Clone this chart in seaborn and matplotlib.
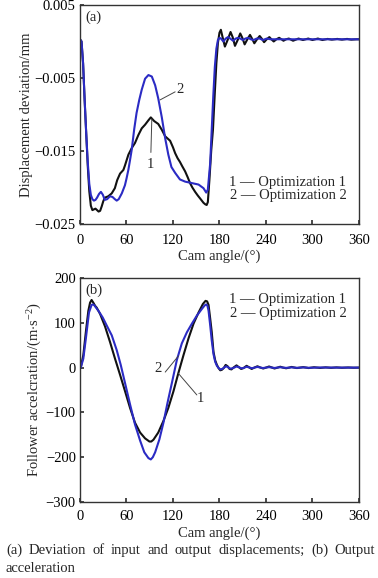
import matplotlib
matplotlib.use("Agg")
import matplotlib.pyplot as plt
import seaborn as sns
import pandas as pd

# ---- (a) displacement deviation, mm ----
disp_angle_1 = [0, 2, 4, 6, 8, 10, 12, 14, 16, 18, 20, 22, 24, 26, 28, 30, 32, 36.6, 41, 45,
                48, 51.7, 56, 58, 62.5, 66.8, 71, 75.4, 79.7, 84, 88.3, 91.4, 95.7, 101, 105.6,
                110, 116.3, 120, 122.8, 126, 129, 132, 135.7, 139, 142, 145, 148.6, 152, 155,
                159.4, 161.6, 163.5, 165, 167, 169.4, 171.6, 174, 176, 178, 180, 181.8, 184,
                187, 190.5, 194.3, 197, 200, 203.5, 206.8, 209.5, 212.5, 216, 219.4, 222, 225,
                228.5, 231.9, 234.5, 237.6, 241, 244.4, 247, 250, 253.5, 257, 260, 262.6, 266,
                269.5, 275, 282, 287.7, 294.6, 300, 307, 312.8, 319.6, 325, 332, 338, 344.7,
                350, 357, 360]
disp_opt_1 = [0.0003, 0.0, -0.003, -0.008, -0.0125, -0.017, -0.0205, -0.0225, -0.0231, -0.0230,
              -0.0229, -0.0231, -0.0233, -0.0232, -0.0226, -0.0219, -0.0214, -0.0212, -0.0208,
              -0.0201, -0.0190, -0.0181, -0.0176, -0.0170, -0.0155, -0.0146, -0.0139, -0.0128,
              -0.0119, -0.0114, -0.0108, -0.0104, -0.0109, -0.0113, -0.0121, -0.0130, -0.0136,
              -0.0145, -0.0153, -0.0160, -0.0165, -0.0171, -0.0178, -0.0186, -0.0194, -0.0200,
              -0.0206, -0.0211, -0.0215, -0.0221, -0.0223, -0.0224, -0.0220, -0.0190, -0.0149,
              -0.0121, -0.0070, -0.0030, -0.0002, 0.0012, 0.0016, 0.0006, -0.0007, 0.0002,
              0.0013, 0.0006, -0.0006, 0.0002, 0.0011, 0.0005, -0.0004, 0.0003, 0.0009, 0.0004,
              -0.00025, 0.0003, 0.00075, 0.0004, -0.0001, 0.0003, 0.0006, 0.0003, 0.0, 0.0003,
              0.0005, 0.0003, 0.0001, 0.0003, 0.0004, 0.0001, 0.0004, 0.0002, 0.0004, 0.0002,
              0.0004, 0.0002, 0.00035, 0.00025, 0.00035, 0.00025, 0.00035, 0.00025, 0.0003,
              0.0003]

disp_angle_2 = [0, 2, 4, 6, 8, 10, 12, 14, 16, 18, 20, 22, 24.5, 27, 29.5, 32, 35, 38.8, 42,
                45, 47.4, 50, 54, 58, 60, 62.4, 64.5, 66.8, 70, 73, 76.5, 79.7, 84, 88.3, 92.7,
                97, 101, 105.6, 110, 114, 118, 122.8, 129, 135.7, 144.4, 153, 159.4, 162.9, 165,
                168, 170, 172, 174, 176, 178, 180, 182, 185, 188, 191, 194, 197.5, 201, 204,
                207, 210, 213.5, 217, 220.5, 224, 228, 232, 236, 241, 246, 252, 270, 300, 330,
                360]
disp_opt_2 = [0.0003, 0.0, -0.003, -0.008, -0.0125, -0.0165, -0.0195, -0.0210, -0.0216,
              -0.0218, -0.0217, -0.0214, -0.0209, -0.0206, -0.0210, -0.0217, -0.0216, -0.0212,
              -0.0213, -0.0216, -0.0218, -0.0216, -0.0208, -0.0197, -0.0188, -0.0176, -0.0163,
              -0.0148, -0.0120, -0.0098, -0.0080, -0.0066, -0.0051, -0.0046, -0.0048, -0.0060,
              -0.0078, -0.0104, -0.0133, -0.0155, -0.0172, -0.0180, -0.0189, -0.0192, -0.0194,
              -0.0196, -0.0201, -0.0207, -0.0203, -0.0167, -0.0121, -0.0075, -0.0035, -0.0010,
              0.0002, 0.0005, 0.0004, 0.0, 0.0004, 0.0006, 0.0004, 0.0001, 0.0004, 0.0005,
              0.0004, 0.0002, 0.0004, 0.0005, 0.0003, 0.0002, 0.0004, 0.0004, 0.0002, 0.0004,
              0.0003, 0.0003, 0.0003, 0.0003, 0.0003, 0.0003]

# ---- (b) follower acceleration, m/s^2 ----
acc_angle_1 = [0, 1, 4.3, 7.8, 10.8, 13, 15, 17.2, 19.5, 21.5, 25.9, 32.3, 38.8, 45.2, 51.7,
               58.2, 64.6, 71, 77.6, 84, 89.6, 92, 94.8, 101, 107.7, 114, 120.6, 127, 133.6,
               140, 146.5, 153, 158.6, 162, 164, 165.9, 168, 170, 172.3, 174.5, 176.7, 178.8,
               181, 183, 185.5, 188, 190.5, 193, 195.5, 198, 202, 205, 208, 211, 215, 218,
               221.5, 225, 229, 233, 236.5, 240, 244, 248, 251, 255, 258.5, 262, 266, 270, 273,
               277, 280, 284, 288, 292, 295, 299, 302, 310, 317, 324, 331, 338, 346, 353, 360]
acc_opt_1 = [0, 0, 28, 83, 127, 145, 151, 145, 138, 134, 120, 92, 57, 20, -16, -53, -90, -123,
             -145, -158, -165, -165, -161, -145, -119, -90, -53, -12, 28, 65, 98, 123, 142, 149,
             148, 140, 110, 80, 35, 16, 6, -1, -6, -5, -1, 6, 3, -3, -4, 0, 5, 1, -3, -1, 4, 1,
             -3, 0, 3, 0, -2, 0, 2.5, 0, -2, 0, 2, 0, -1.5, 0, 1.5, 0, -1, 0, 1, 0, -1, 0, 0.8,
             -0.7, 0.6, -0.5, 0.5, -0.4, 0.3, -0.3, 0]

acc_angle_2 = [0, 1, 4.3, 7.8, 11.6, 15, 17, 18.5, 23.7, 29.3, 34.5, 41, 47.4, 52.6, 58.2, 64.6,
               71, 77.6, 83, 88.3, 91.4, 94, 97, 102.5, 107.7, 112.9, 118.5, 125, 131.4, 138,
               144.4, 150.8, 157.3, 161, 162.9, 164.5, 165.9, 168, 170, 172.3, 174.5, 176.7,
               179, 181, 183.5, 186, 188.5, 191, 193.5, 196, 199, 202, 205, 208, 211, 215, 218,
               222, 225, 229, 236, 244, 251, 258, 266, 273, 280, 288, 295, 310, 330, 360]
acc_opt_2 = [0, 0, 20, 68, 123, 140, 141, 139, 127, 112, 94, 72, 39, 6, -35, -82, -127, -163,
             -189, -202, -205, -200, -189, -160, -123, -79, -35, 17, 54, 79, 98, 116, 131, 139,
             141, 138, 127, 95, 61, 30, 13, 4, -1, -4, -3, 0, 3, 1, -2, -2, 0, 2.5, 1, -1.5, -1,
             2, 0.5, -1.5, 0, 1.5, -1, 1, -0.8, 0.8, -0.6, 0.5, -0.5, 0.4, -0.4, 0.2, 0, 0]

x_ticks = [0, 60, 120, 180, 240, 300, 360]
disp_ticks = [0.005, -0.005, -0.015, -0.025]
disp_tick_labels = ["0.005", "\u22120.005", "\u22120.015", "\u22120.025"]
acc_ticks = [200, 100, 0, -100, -200, -300]
legend_lines = ["1 \u2014 Optimization 1", "2 \u2014 Optimization 2"]
caption_line1 = "(a) Deviation of input and output displacements; (b) Output"
caption_line2 = "acceleration"

BLACK = "#111111"
BLUE = "#2b2bc4"

sns.set_theme(style="ticks", rc={
    "xtick.direction": "in", "ytick.direction": "in",
    "xtick.major.size": 3, "ytick.major.size": 3,
    "axes.edgecolor": "#333333", "axes.linewidth": 1.0,
})
plt.rcParams["font.family"] = ["Liberation Serif", "DejaVu Serif"]
plt.rcParams["mathtext.fontset"] = "custom"
plt.rcParams["mathtext.rm"] = "Liberation Serif"
plt.rcParams["mathtext.it"] = "Liberation Serif:italic"
FS = 10.5

fig = plt.figure(figsize=(3.78, 5.78), dpi=100)
ax_a = fig.add_axes([0.2116, 0.6125, 0.738, 0.3789])
ax_b = fig.add_axes([0.2116, 0.1315, 0.738, 0.3875])

df_a1 = pd.DataFrame({"angle": disp_angle_1, "value": disp_opt_1})
df_a2 = pd.DataFrame({"angle": disp_angle_2, "value": disp_opt_2})
sns.lineplot(data=df_a1, x="angle", y="value", ax=ax_a, color=BLACK, lw=1.5, sort=False)
sns.lineplot(data=df_a2, x="angle", y="value", ax=ax_a, color=BLUE, lw=1.5, sort=False)

df_b1 = pd.DataFrame({"angle": acc_angle_1, "value": acc_opt_1})
df_b2 = pd.DataFrame({"angle": acc_angle_2, "value": acc_opt_2})
sns.lineplot(data=df_b1, x="angle", y="value", ax=ax_b, color=BLACK, lw=1.5, sort=False)
sns.lineplot(data=df_b2, x="angle", y="value", ax=ax_b, color=BLUE, lw=1.5, sort=False)

for ax in (ax_a, ax_b):
    ax.set_xlim(0, 360)
    ax.set_xticks(x_ticks)
    ax.tick_params(labelsize=FS, colors="#333333", labelcolor="black", pad=3)
    ax.set_xlabel("Cam angle/(\u00b0)", fontsize=FS)
ax_a.tick_params(axis="x", pad=7)
ax_b.tick_params(axis="x", pad=5.5)

ax_a.set_ylim(-0.025, 0.005)
ax_a.set_yticks(disp_ticks)
ax_a.set_yticklabels(disp_tick_labels)
ax_a.set_ylabel("Displacement deviation/mm", fontsize=FS)
ax_a.yaxis.set_label_coords(-0.17, 0.5)
ax_a.xaxis.set_label_coords(0.5, -0.118)

ax_b.set_ylim(-300, 200)
ax_b.set_yticks(acc_ticks)
ax_b.set_yticklabels([str(t).replace("-", "\u2212") for t in acc_ticks])
ax_b.set_ylabel("Follower accelcration/(m$\\cdot$s$^{-2}$)", fontsize=FS)
ax_b.yaxis.set_label_coords(-0.13, 0.5)
ax_b.xaxis.set_label_coords(0.5, -0.108)

# panel tags
ax_a.text(0.02, 0.975, "(a)", transform=ax_a.transAxes, fontsize=FS, va="top")
ax_b.text(0.02, 0.975, "(b)", transform=ax_b.transAxes, fontsize=FS, va="top")

# curve labels with leader lines
ax_a.plot([103.4, 122.8], [-0.0080, -0.0069], color="#444444", lw=0.7)
ax_a.text(129, -0.0066, "2", fontsize=FS, ha="center", va="center")
ax_a.plot([92.7, 91.5], [-0.0106, -0.0152], color="#444444", lw=0.7)
ax_a.text(91.5, -0.0168, "1", fontsize=FS, ha="center", va="center")

ax_b.plot([110, 127], [-10, 26], color="#444444", lw=0.7)
ax_b.text(100.5, -1, "2", fontsize=FS, ha="center", va="center")
ax_b.plot([127, 150.8], [-13, -61], color="#444444", lw=0.7)
ax_b.text(155, -69, "1", fontsize=FS, ha="center", va="center")

# legend-like text
ax_a.text(0.955, 0.19, legend_lines[0], transform=ax_a.transAxes, fontsize=FS, ha="right", va="center")
ax_a.text(0.955, 0.13, legend_lines[1], transform=ax_a.transAxes, fontsize=FS, ha="right", va="center")
ax_b.text(0.955, 0.905, legend_lines[0], transform=ax_b.transAxes, fontsize=FS, ha="right", va="center")
ax_b.text(0.955, 0.84, legend_lines[1], transform=ax_b.transAxes, fontsize=FS, ha="right", va="center")

# caption: first line justified between x = 6 px and x = 375 px
left_px, right_px = 6, 375
y1 = 1 - 554 / 578
words = caption_line1.split(" ")
texts = [fig.text(0, y1, w, fontsize=FS, va="baseline", ha="left") for w in words]
renderer = fig.canvas.get_renderer()
widths = [t.get_window_extent(renderer).width for t in texts]
gap = (right_px - left_px - sum(widths)) / (len(words) - 1)
x = left_px
for t, w in zip(texts, widths):
    t.set_x(x / 378)
    x += w + gap
fig.text(left_px / 378, 1 - 572 / 578, caption_line2, fontsize=FS, va="baseline", ha="left")

fig.savefig("out.png", dpi=100)
